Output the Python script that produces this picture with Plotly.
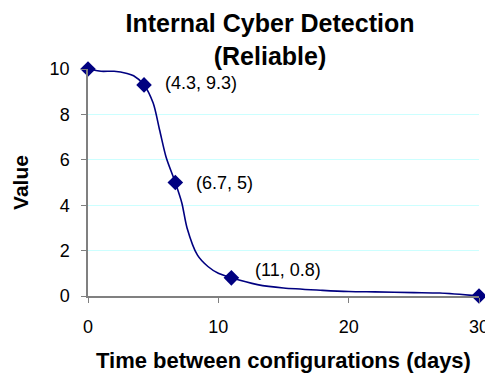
import plotly.graph_objects as go

# smoothed model curve
curve_x = [0, 1, 2, 3, 3.5, 4.3, 5, 5.5, 6, 6.7, 7.2, 7.6, 8.4, 9.2, 10, 11, 13, 15, 18, 20, 22, 25, 27, 30]
curve_y = [10, 9.9, 9.9, 9.8, 9.7, 9.3, 8.5, 7.3, 6.1, 5, 4.1, 3.0, 1.8, 1.3, 1.0, 0.8, 0.5, 0.35, 0.25, 0.2, 0.18, 0.15, 0.13, 0]

# marked points
pts_x = [0, 4.3, 6.7, 11, 30]
pts_y = [10, 9.3, 5, 0.8, 0]
labels = ["", "(4.3, 9.3)", "(6.7, 5)", "(11, 0.8)", ""]
label_dx = [0, 19, 19, 22, 0]
label_dy = [0, 2, 0, 8, 0]

NAVY = "#000080"
FONT = "Liberation Sans, Arial, sans-serif"

# page body has an 8px margin; keep the figure inside the window
W, H = 485, 365

fig = go.Figure()
fig.add_trace(go.Scatter(
    x=curve_x, y=curve_y, mode="lines",
    line=dict(color=NAVY, width=1.6, shape="spline", smoothing=0.8),
    hoverinfo="skip", cliponaxis=False,
))
fig.add_trace(go.Scatter(
    x=pts_x, y=pts_y, mode="markers",
    marker=dict(symbol="diamond", size=12, color=NAVY),
    cliponaxis=False,
))

for x, y, t, dx, dy in zip(pts_x, pts_y, labels, label_dx, label_dy):
    if t:
        fig.add_annotation(x=x, y=y, text=t, showarrow=False, xanchor="left",
                           xshift=dx, yshift=dy, font=dict(size=18, color="black"))

fig.update_layout(
    width=W, height=H,
    margin=dict(l=80, r=W - 471, t=61, b=H - 288, autoexpand=False),
    paper_bgcolor="white", plot_bgcolor="white",
    font=dict(family=FONT, color="black"),
    showlegend=False,
    title=dict(
        text="<b>Internal Cyber Detection<br>(Reliable)</b>",
        x=262 / W, xanchor="center",
        y=1 - 24 / H, yanchor="middle",
        font=dict(size=25),
        automargin=False,
    ),
)
fig.update_xaxes(
    range=[0, 30], tickvals=[0, 10, 20, 30],
    showgrid=False, zeroline=False, automargin=False,
    showline=True, linecolor="#808080", linewidth=1.5,
    ticks="outside", ticklen=5, tickcolor="#808080",
    ticklabelstandoff=9, ticklabeloverflow="allow",
    tickfont=dict(size=18),
    title=dict(text="<b>Time between configurations (days)</b>", font=dict(size=22), standoff=19),
)
fig.update_yaxes(
    range=[0, 10], tickvals=[0, 2, 4, 6, 8, 10],
    showgrid=True, gridcolor="#ccffff", gridwidth=1,
    zeroline=False, automargin=False,
    showline=True, linecolor="#808080", linewidth=1.5,
    ticks="outside", ticklen=5, tickcolor="#808080",
    ticklabelstandoff=8,
    tickfont=dict(size=18),
    title=dict(text="<b>Value</b>", font=dict(size=21), standoff=15),
)

fig.write_html("out.html")
